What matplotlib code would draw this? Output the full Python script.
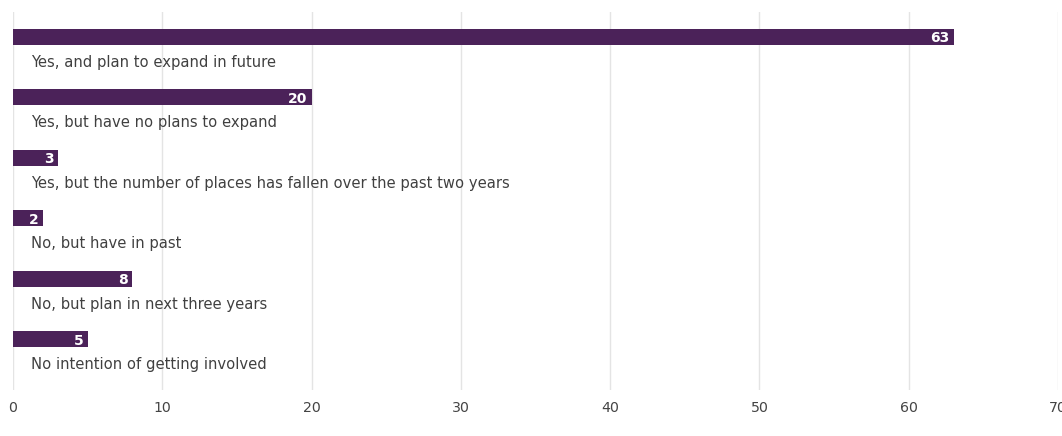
import matplotlib
matplotlib.use("Agg")
import matplotlib.pyplot as plt

categories = [
    "Yes, and plan to expand in future",
    "Yes, but have no plans to expand",
    "Yes, but the number of places has fallen over the past two years",
    "No, but have in past",
    "No, but plan in next three years",
    "No intention of getting involved",
]
values = [63, 20, 3, 2, 8, 5]
xticks = [0, 10, 20, 30, 40, 50, 60, 70]

plt.rcParams['font.family'] = ['DejaVu Sans']

fig = plt.figure(figsize=(10.62, 4.36), dpi=100)
ax = fig.add_axes([13/1062, 46/436, 1045/1062, 378/436])

bar_color = "#4b2259"
pos = list(range(len(categories)))
ax.barh(pos, values, height=0.264, color=bar_color, zorder=3)

for i, (c, v) in enumerate(zip(categories, values)):
    ax.text(v - 0.3, i + 0.02, str(v), ha="right", va="center", color="white",
            fontsize=10, fontweight="bold", zorder=4)
    ax.text(1.2, i + 0.415, c, ha="left", va="center", color="#404040",
            fontsize=10.65, zorder=4)

ax.set_xlim(0, 70)
ax.set_ylim(5 + 0.835, -0.413)
ax.set_xticks(xticks)
ax.set_xticklabels([str(t) for t in xticks], fontsize=10.2, color="#444444")
ax.set_yticks([])
ax.tick_params(axis="x", length=0, pad=8)
ax.grid(axis="x", color="#e4e4e4", linewidth=1, zorder=0)
for s in ax.spines.values():
    s.set_visible(False)

fig.savefig("out.png", dpi=100)
